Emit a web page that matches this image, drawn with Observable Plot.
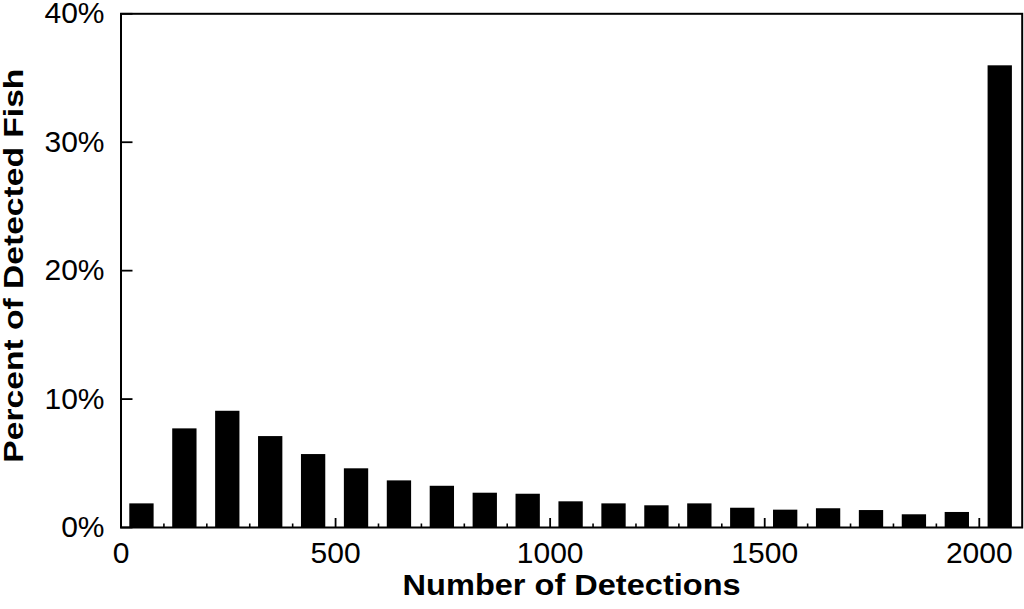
<!DOCTYPE html>
<html>
<head>
<meta charset="utf-8">
<script src="https://cdn.jsdelivr.net/npm/d3@7"></script>
<script src="https://cdn.jsdelivr.net/npm/@observablehq/plot@0.6"></script>
<style>
html, body { margin: 0; padding: 0; background: #fff; }
#chart svg { display: block; }
</style>
</head>
<body>
<div id="chart"></div>
<script>
// Bins of number of detections (start and end of each bin)
const binStart = [0, 100, 200, 300, 400, 500, 600, 700, 800, 900, 1000, 1100, 1200, 1300, 1400, 1500, 1600, 1700, 1800, 1900, 2000];
const binEnd   = [100, 200, 300, 400, 500, 600, 700, 800, 900, 1000, 1100, 1200, 1300, 1400, 1500, 1600, 1700, 1800, 1900, 2000, 2100];
// Percent of detected fish in each bin
const percent  = [1.84, 7.68, 9.05, 7.08, 5.68, 4.57, 3.63, 3.21, 2.67, 2.59, 2.00, 1.84, 1.69, 1.84, 1.50, 1.35, 1.46, 1.32, 0.99, 1.17, 35.95];

const xMajorTicks = [0, 500, 1000, 1500, 2000];
const xMinorTicks = [100, 200, 300, 400, 600, 700, 800, 900, 1100, 1200, 1300, 1400, 1600, 1700, 1800, 1900];
const yTicks = [0, 10, 20, 30, 40];
const xTitle = "Number of Detections";
const yTitle = "Percent of Detected Fish";

const bins = binStart.map((s, i) => ({x1: s, x2: binEnd[i], pct: percent[i]}));

const chart = Plot.plot({
  width: 1024,
  height: 609,
  marginLeft: 120.5,
  marginRight: 2.3,
  marginTop: 13.3,
  marginBottom: 82,
  style: {fontFamily: "'Liberation Sans', Arial, sans-serif", background: "#fff", color: "#000"},
  x: {domain: [0, 2100]},
  y: {domain: [0, 40]},
  marks: [
    Plot.rectY(bins, {x1: "x1", x2: "x2", y: "pct", fill: "#000", insetLeft: 8.8, insetRight: 9.8}),
    Plot.axisX(xMinorTicks, {tickSize: -3.5, strokeWidth: 1.6, fill: "none", label: null}),
    Plot.axisX(xMajorTicks, {tickSize: -9, strokeWidth: 1.8, fill: "none", label: null}),
    Plot.axisX(xMajorTicks, {tickSize: 0, tickPadding: 14.5, fontSize: 30, tickFormat: d => String(d), label: null}),
    Plot.axisY(yTicks, {tickSize: -12, strokeWidth: 1.8, fill: "none", label: null}),
    Plot.axisY(yTicks, {tickSize: 0, tickPadding: 16.5, fontSize: 30, tickFormat: d => d + "%", label: null}),
    Plot.frame({stroke: "#000", strokeWidth: 2}),
    Plot.text([xTitle], {frameAnchor: "bottom", dy: 67.3, lineAnchor: "bottom", fontSize: 29.5, fontWeight: "bold", fill: "#000"}),
    Plot.text([yTitle], {frameAnchor: "left", dx: -98.5, dy: -5, rotate: -90, lineAnchor: "bottom", fontSize: 28.5, fontWeight: "bold", fill: "#000"})
  ]
});

document.getElementById("chart").append(chart);

// Stretch the axis titles to the lengths they have in the reference
chart.querySelectorAll("text").forEach(t => {
  if (t.textContent === xTitle) {
    t.setAttribute("textLength", 338);
    t.setAttribute("lengthAdjust", "spacingAndGlyphs");
  } else if (t.textContent === yTitle) {
    t.setAttribute("text-anchor", "start");
    t.setAttribute("x", -197);
    t.setAttribute("textLength", 394);
    t.setAttribute("lengthAdjust", "spacingAndGlyphs");
  }
});
</script>
</body>
</html>
